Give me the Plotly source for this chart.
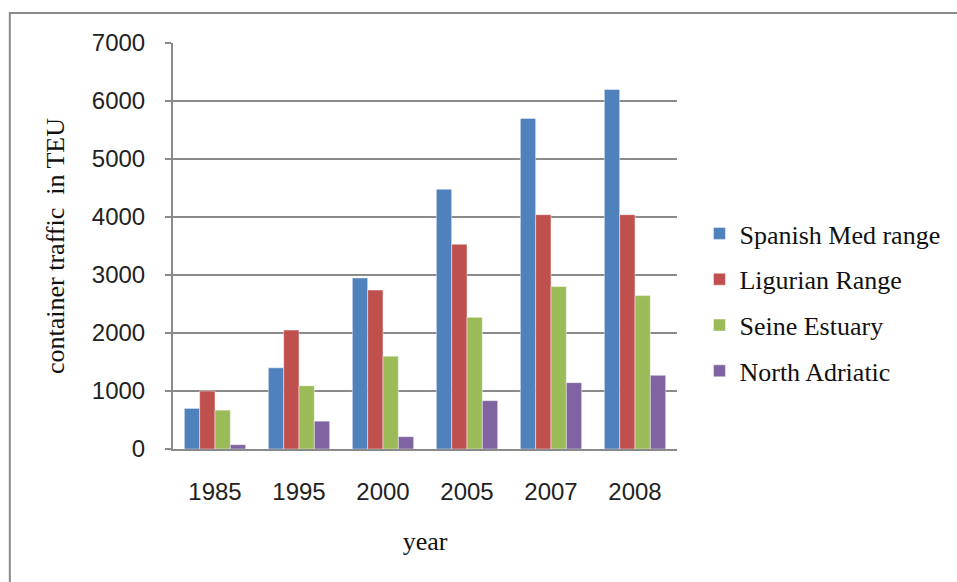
import plotly.graph_objects as go

# Container traffic (TEU) by port range and year
years = ["1985", "1995", "2000", "2005", "2007", "2008"]
spanish_med = [700, 1400, 2950, 4480, 5700, 6200]
ligurian = [1000, 2050, 2740, 3530, 4040, 4040]
seine = [670, 1090, 1600, 2270, 2800, 2645]
north_adriatic = [75, 480, 213, 834, 1144, 1271]

series = [
    ("Spanish Med range", spanish_med, "#4F81BD"),
    ("Ligurian Range", ligurian, "#C0504D"),
    ("Seine Estuary", seine, "#9BBB59"),
    ("North Adriatic", north_adriatic, "#8064A2"),
]

W, H = 957, 582
L, R, T, B = 172.5, 279.5, 43, 133
PW, PH = W - L - R, H - T - B

fig = go.Figure()
for name, vals, color in series:
    fig.add_trace(go.Bar(
        x=years, y=vals, name=name, legendgroup=name,
        marker=dict(color=color, line=dict(color="rgba(255,255,255,0.45)", width=1)),
    ))

grid = "#8a8a8a"
serif = "Liberation Serif, Times New Roman, serif"
sans = "Liberation Sans, Arial, sans-serif"


def px_x(x):
    return (x - L) / PW


def px_y(y):
    return (H - B - y) / PH


fig.update_layout(
    width=W, height=H,
    margin=dict(l=L, r=R, t=T, b=B, autoexpand=False),
    paper_bgcolor="white", plot_bgcolor="white",
    barmode="group", bargap=0.27, bargroupgap=0,
    font=dict(family=sans, size=24, color="#222"),
    xaxis=dict(
        type="category", showline=True, linecolor=grid, linewidth=2,
        ticks="", showgrid=False, ticklabelstandoff=20,
        tickfont=dict(family=sans, size=24, color="#222"),
        title=dict(text="year", font=dict(family=serif, size=26, color="#111"), standoff=28),
    ),
    yaxis=dict(
        range=[0, 7000], dtick=1000, showline=True, linecolor=grid, linewidth=2,
        ticks="outside", ticklen=6, tickwidth=2, tickcolor=grid,
        showgrid=True, gridcolor=grid, gridwidth=1.5, zeroline=False,
        ticklabelstandoff=15,
        tickfont=dict(family=sans, size=24, color="#222"),
        title=dict(text="container traffic  in TEU",
                   font=dict(family=serif, size=26, color="#111"), standoff=20),
    ),
    legend=dict(
        x=px_x(700), y=px_y(210), xanchor="left", yanchor="top",
        font=dict(family=serif, size=26, color="#111"),
        tracegroupgap=9, bgcolor="rgba(0,0,0,0)",
    ),
    showlegend=True,
)

# outer chart frame (extends past the right and bottom edges)
fig.add_shape(
    type="rect", xref="paper", yref="paper",
    x0=px_x(9), x1=px_x(962), y0=px_y(13), y1=px_y(590),
    line=dict(color="#8a8a8a", width=2), fillcolor="rgba(0,0,0,0)", layer="below",
)

fig.write_html("out.html")
